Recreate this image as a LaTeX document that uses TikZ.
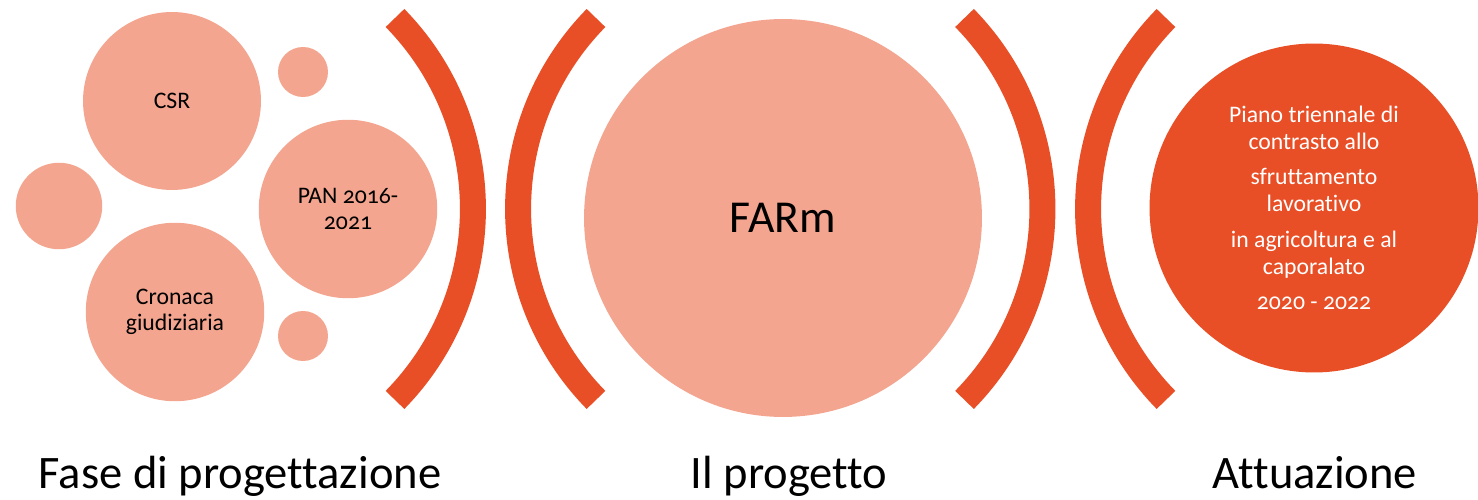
\documentclass[tikz,border=0pt]{standalone}
\usepackage{fontspec}
\setmainfont{Carlito}[Numbers=OldStyle,Ligatures={NoCommon}]
\definecolor{salmon}{HTML}{F3A58F}
\definecolor{brick}{HTML}{E84F26}
\begin{document}
\begin{tikzpicture}[x=0.02cm,y=-0.02cm,
  bubble/.style={circle,fill=salmon,draw=none,inner sep=0pt,align=center,
    font=\fontsize{13.5}{15}\selectfont,text=black},
  bigbubble/.style={circle,fill=salmon,draw=none,inner sep=0pt,
    font=\fontsize{26}{30}\selectfont,text=black},
  redbubble/.style={circle,fill=brick,draw=none,inner sep=0pt,align=center,
    font=\fontsize{13.5}{15.3}\selectfont,text=white},
  bracket/.style={draw=brick,line width=0.52cm},
  label/.style={anchor=base,font=\fontsize{26.5}{30}\selectfont,text=black}]
\useasboundingbox (0,0) rectangle (1478,500);
% left cluster
\node[bubble,minimum size=3.56cm] (csr) at (172,101) {CSR};
\node[bubble,minimum size=1.0cm] (s1) at (303,72) {};
\node[bubble,minimum size=1.73cm] (s2) at (59,206) {};
\node[bubble,minimum size=3.57cm] (pan) at (348,209) {PAN 2016-\\2021};
\node[bubble,minimum size=3.57cm] (cron) at (175,312) {Cronaca\\giudiziaria};
\node[bubble,minimum size=1.0cm] (s3) at (303,336) {};
% middle
\node[bigbubble,minimum size=7.96cm] (farm) at (783,218) {FARm};
% right
\node[redbubble,minimum size=6.58cm] (att) at (1314,208)
  {Piano triennale di\\contrasto allo\\[5pt]sfruttamento\\lavorativo\\[5pt]in agricoltura e al\\caporalato\\[5pt]2020 - 2022};
% brackets
\coordinate (b1) at (395,18);
\coordinate (b2) at (596,18);
\coordinate (b3) at (964.5,18);
\coordinate (b4) at (1166,18);
\draw[bracket] (b1) arc[start angle=44.4,end angle=-44.4,radius=5.46cm];
\draw[bracket] (b2) arc[start angle=135.6,end angle=224.4,radius=5.46cm];
\draw[bracket] (b3) arc[start angle=44.4,end angle=-44.4,radius=5.46cm];
\draw[bracket] (b4) arc[start angle=135.6,end angle=224.4,radius=5.46cm];
% labels
\node[label] (l1) at (240,488) {Fase di progettazione};
\node[label] (l2) at (789,488) {Il progetto};
\node[label] (l3) at (1315,488) {Attuazione};
\end{tikzpicture}
\end{document}
